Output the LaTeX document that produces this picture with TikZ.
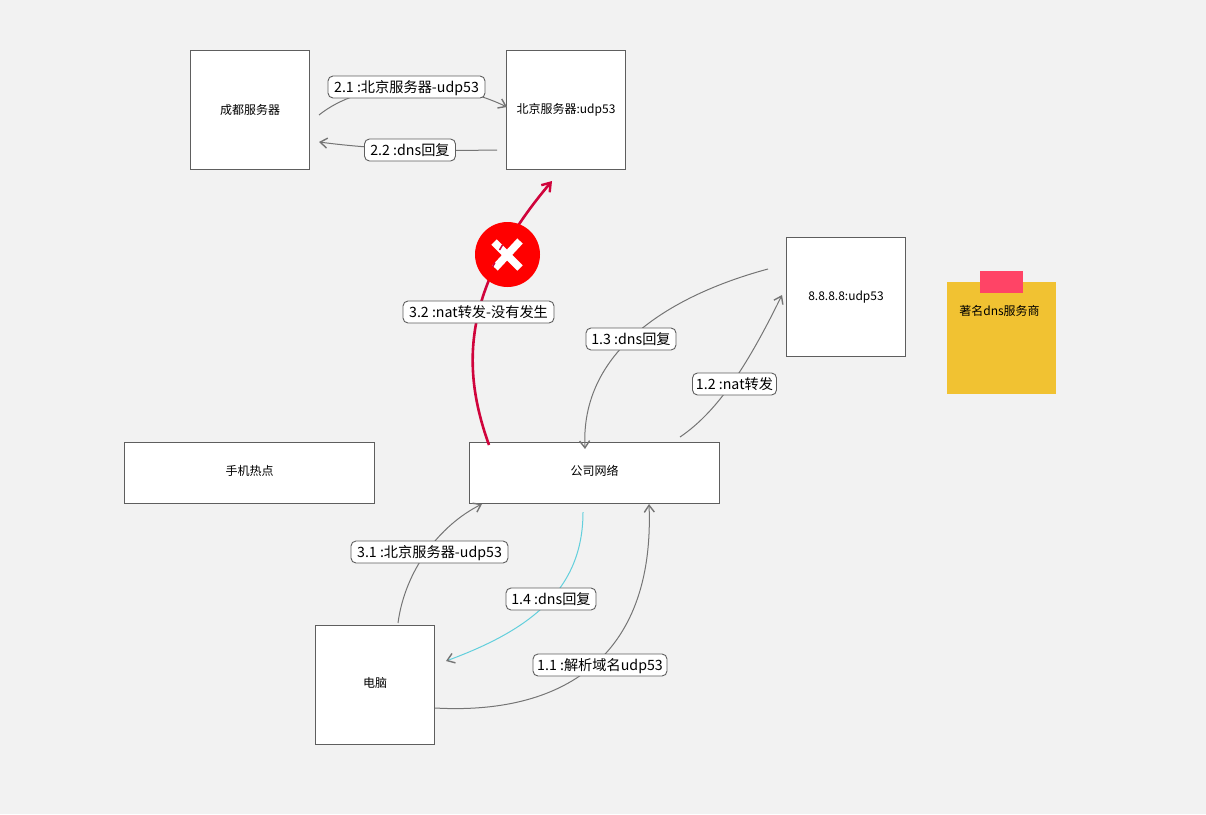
\documentclass[tikz,border=0pt]{standalone}
\usepackage{fontspec}
\setmainfont{Noto Sans CJK SC}
\usetikzlibrary{arrows.meta}
\definecolor{bgc}{HTML}{F2F2F2}
\definecolor{edgec}{HTML}{757575}
\definecolor{boxc}{HTML}{5E5E5E}
\definecolor{redc}{HTML}{D0043C}
\definecolor{cyanc}{HTML}{62CFDC}
\definecolor{stickyc}{HTML}{F1C232}
\definecolor{tapec}{HTML}{FF4466}
\tikzset{
  x=1pt,y=-1pt,
  box/.style={draw=boxc,line width=0.9pt,fill=white,inner sep=0pt,font=\fontsize{12}{14}\selectfont},
  boxlow/.style={box,text height=9.5pt,text depth=5.5pt},
  msg/.style={draw=boxc,line width=0.9pt,fill=white,rounded corners=5pt,inner sep=0pt,minimum height=22pt,text height=12pt,text depth=2pt,font=\fontsize{14.2}{16}\selectfont},
  conn/.style={draw=edgec,line width=1pt,-{Straight Barb[length=7pt,width=10pt,line width=1.4pt]}},
}
\begin{document}
\begin{tikzpicture}
\path[use as bounding box,fill=bgc] (0,0) rectangle (1206,814);
% boxes
\node[box,minimum width=119pt,minimum height=119pt] (cd) at (250,110) {成都服务器};
\node[box,minimum width=119pt,minimum height=119pt] (bj) at (566,110) {北京服务器:udp53};
\node[box,minimum width=119pt,minimum height=119pt] (dns) at (846,297) {8.8.8.8:udp53};
\node[boxlow,minimum width=250pt,minimum height=61pt] (hot) at (249.5,473) {手机热点};
\node[boxlow,minimum width=250pt,minimum height=61pt] (corp) at (594.5,473) {公司网络};
\node[boxlow,minimum width=119pt,minimum height=119pt] (pc) at (375,685) {电脑};
% sticky note
\node[fill=stickyc,minimum width=109pt,minimum height=112pt,inner sep=0pt] (note) at (1001.5,338) {};
\node[fill=tapec,minimum width=43pt,minimum height=22pt,inner sep=0pt] (tape) at (1001.5,282) {};
\node[font=\fontsize{12}{14}\selectfont,inner sep=0pt] (notetxt) at (999.5,311) {著名dns服务商};
% connector anchors
\coordinate (a21s) at (319,115); \coordinate (a21e) at (507,107);
\coordinate (a22s) at (497,150); \coordinate (a22e) at (319,142);
\coordinate (a32s) at (489,445); \coordinate (a32e) at (552,181);
\coordinate (a13s) at (768,269); \coordinate (a13e) at (585,449);
\coordinate (a12s) at (680,437); \coordinate (a12e) at (782,295);
\coordinate (a31s) at (398,623); \coordinate (a31e) at (482,504);
\coordinate (a14s) at (583,512); \coordinate (a14e) at (446,661);
\coordinate (a11s) at (435,708); \coordinate (a11e) at (649,504);
% connectors
\draw[conn] (a21s) .. controls (360,82) and (440,75) .. (a21e);
\draw[conn] (a22s) .. controls (440,151) and (380,150) .. (a22e);
\draw[conn] (a13s) .. controls (690,290) and (580,340) .. (a13e);
\draw[conn] (a12s) .. controls (720,410) and (750,360) .. (a12e);
\draw[conn] (a31s) .. controls (405,570) and (440,525) .. (a31e);
\draw[conn,draw=cyanc,{-{Straight Barb[length=7pt,width=10pt,line width=1.4pt,color=edgec]}}] (a14s) .. controls (583,590) and (530,630) .. (a14e);
\draw[conn] (a11s) .. controls (560,715) and (655,660) .. (a11e);
\draw[draw=redc,line width=2.6pt,-{Straight Barb[length=8pt,width=11pt,line width=2.4pt]}] (a32s) .. controls (462,370) and (460,290) .. (a32e);
% labels
\node[msg,minimum width=157pt] (l21) at (406.5,87) {2.1 :北京服务器-udp53};
\node[msg,minimum width=91pt] (l22) at (410,150) {2.2 :dns回复};
\node[msg,minimum width=90pt] (l13) at (631,339) {1.3 :dns回复};
\node[msg,minimum width=84pt] (l12) at (734.5,384) {1.2 :nat转发};
\node[msg,minimum width=151pt] (l32) at (478.5,312) {3.2 :nat转发-没有发生};
\node[msg,minimum width=157pt] (l31) at (429.5,552) {3.1 :北京服务器-udp53};
\node[msg,minimum width=90pt] (l14) at (551,599) {1.4 :dns回复};
\node[msg,minimum width=134pt] (l11) at (600,665) {1.1 :解析域名udp53};
% red cross
\node[circle,fill=red,minimum size=65pt,inner sep=0pt] (stop) at (507.5,254.5) {};
\draw[white,line width=7.5pt] (494,242) -- (520,268);
\draw[white,line width=7.5pt] (520,241) -- (495,268);
\draw[redc,line width=1.5pt] (499.5,250) -- (502.5,245);
\draw[redc,line width=1.5pt] (492.5,267) -- (495,262.5);
\end{tikzpicture}
\end{document}
